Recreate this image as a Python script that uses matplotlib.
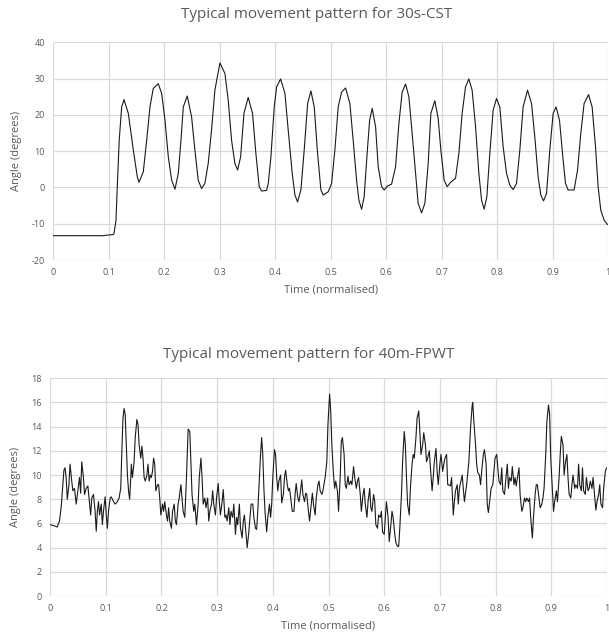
import matplotlib
matplotlib.use('Agg')
import matplotlib.pyplot as plt

plt.rcParams['font.family'] = ['Open Sans', 'DejaVu Sans']
plt.rcParams['axes.unicode_minus'] = False

# 30s-CST: angle vs normalised time
cst_time = [0.000, 0.090, 0.100, 0.108, 0.1096, 0.1132, 0.1155, 0.119, 0.1234, 0.1276,
            0.1354, 0.1444, 0.1516, 0.1546, 0.1624, 0.1685, 0.1744, 0.1804, 0.1894, 0.1955,
            0.2015, 0.2075, 0.2135, 0.2195, 0.2255, 0.2303, 0.2345, 0.2416, 0.2494, 0.2554,
            0.2614, 0.2674, 0.2734, 0.2794, 0.2854, 0.2914, 0.3005, 0.3095, 0.3155, 0.3215,
            0.3275, 0.3324, 0.3378, 0.3438, 0.3515, 0.3593, 0.3653, 0.3713, 0.3757, 0.3847,
            0.3876, 0.3924, 0.3984, 0.4027, 0.4099, 0.4177, 0.4236, 0.4308, 0.4357, 0.4405,
            0.4465, 0.4524, 0.4586, 0.4645, 0.4705, 0.4765, 0.4825, 0.4867, 0.4957, 0.5018,
            0.5077, 0.5137, 0.5198, 0.5270, 0.5348, 0.5407, 0.5468, 0.5510, 0.5559, 0.5605,
            0.5654, 0.5703, 0.5750, 0.5811, 0.5858, 0.5919, 0.5966, 0.6027, 0.6099, 0.6171,
            0.6231, 0.6290, 0.6351, 0.6411, 0.6470, 0.6532, 0.6578, 0.6640, 0.6699, 0.6759,
            0.6807, 0.6879, 0.6939, 0.6987, 0.7047, 0.7101, 0.7168, 0.7252, 0.7312, 0.7371,
            0.7432, 0.7492, 0.7551, 0.7613, 0.7672, 0.7721, 0.7768, 0.7816, 0.7870, 0.7930,
            0.7991, 0.8050, 0.8110, 0.8171, 0.8231, 0.8290, 0.8351, 0.8411, 0.8470, 0.8550,
            0.8622, 0.8681, 0.8741, 0.8789, 0.8838, 0.8892, 0.8951, 0.9011, 0.9065, 0.9126,
            0.9186, 0.9234, 0.9281, 0.9389, 0.9451, 0.9510, 0.9569, 0.9649, 0.9714, 0.9775,
            0.9822, 0.9870, 0.9930, 0.9990]
cst_angle = [-13.3, -13.3, -13.1, -13.0, -12.7, -9.0, 0.2, 13.0, 22.2, 24.2,
             20.4, 10.3, 2.9, 1.4, 4.3, 13.0, 22.2, 27.3, 28.6, 25.9,
             18.5, 8.4, 2.0, -0.5, 3.9, 13.0, 22.2, 25.2, 19.5, 10.3,
             2.0, -0.3, 1.1, 6.6, 15.8, 26.8, 34.3, 31.4, 24.0, 13.0,
             6.6, 4.8, 8.4, 20.4, 24.8, 20.4, 9.4, 0.2, -1.0, -0.8,
             1.1, 8.4, 22.2, 27.7, 29.9, 25.9, 15.8, 3.9, -2.1, -4.0,
             -0.7, 10.3, 23.1, 26.6, 22.2, 9.4, -0.7, -2.1, -1.2, 1.1,
             10.3, 22.2, 26.3, 27.4, 23.1, 13.0, 2.0, -3.5, -6.0, -2.6,
             8.4, 18.5, 21.8, 16.7, 5.7, 0.2, -0.7, 0.4, 0.9, 5.7,
             17.6, 26.3, 28.5, 25.0, 14.9, 3.9, -4.4, -7.0, -4.4, 6.6,
             20.4, 23.9, 19.0, 10.3, 2.0, 0.2, 1.5, 2.5, 9.4, 20.4,
             27.7, 29.9, 26.8, 16.7, 3.9, -3.5, -6.0, -2.6, 9.4, 21.3,
             24.5, 22.2, 11.2, 3.9, 0.6, -0.6, 1.1, 10.3, 22.2, 26.8,
             23.1, 13.9, 2.9, -2.1, -3.7, -1.7, 10.3, 20.4, 22.2, 18.5,
             8.4, 1.1, -0.7, -0.7, 4.8, 14.9, 23.1, 25.6, 22.2, 11.2,
             0.2, -6.3, -9.0, -10.2]

# 40m-FPWT: angle vs normalised time
fpwt_time = [0.000, 0.008, 0.013, 0.017, 0.020, 0.023, 0.025, 0.027, 0.029, 0.031,
             0.034, 0.036, 0.039, 0.041, 0.044, 0.047, 0.050, 0.053, 0.055, 0.057,
             0.060, 0.062, 0.065, 0.068, 0.071, 0.073, 0.075, 0.078, 0.081, 0.083,
             0.085, 0.087, 0.089, 0.092, 0.094, 0.096, 0.099, 0.101, 0.103, 0.105,
             0.108, 0.110, 0.114, 0.117, 0.121, 0.124, 0.127, 0.129, 0.131, 0.133,
             0.135, 0.137, 0.139, 0.141, 0.143, 0.145, 0.146, 0.148, 0.151, 0.153,
             0.156, 0.158, 0.160, 0.163, 0.165, 0.167, 0.169, 0.171, 0.174, 0.176,
             0.178, 0.180, 0.182, 0.184, 0.186, 0.188, 0.190, 0.193, 0.195, 0.197,
             0.199, 0.202, 0.204, 0.206, 0.209, 0.211, 0.213, 0.215, 0.218, 0.220,
             0.223, 0.225, 0.227, 0.230, 0.232, 0.235, 0.237, 0.239, 0.242, 0.245,
             0.248, 0.251, 0.253, 0.255, 0.258, 0.260, 0.263, 0.266, 0.268, 0.271,
             0.273, 0.275, 0.278, 0.280, 0.283, 0.285, 0.287, 0.290, 0.292, 0.294,
             0.297, 0.299, 0.302, 0.304, 0.306, 0.309, 0.311, 0.314, 0.316, 0.318,
             0.321, 0.323, 0.325, 0.328, 0.330, 0.333, 0.335, 0.337, 0.340, 0.342,
             0.345, 0.347, 0.349, 0.352, 0.354, 0.357, 0.359, 0.361, 0.364, 0.366,
             0.369, 0.371, 0.373, 0.376, 0.378, 0.380, 0.382, 0.384, 0.386, 0.389,
             0.391, 0.394, 0.396, 0.398, 0.400, 0.403, 0.405, 0.407, 0.409, 0.411,
             0.414, 0.416, 0.419, 0.421, 0.423, 0.426, 0.428, 0.430, 0.433, 0.435,
             0.438, 0.440, 0.442, 0.445, 0.447, 0.449, 0.452, 0.454, 0.457, 0.459,
             0.461, 0.464, 0.466, 0.469, 0.471, 0.473, 0.476, 0.478, 0.481, 0.483,
             0.485, 0.488, 0.490, 0.494, 0.497, 0.499, 0.502, 0.504, 0.506, 0.509,
             0.511, 0.513, 0.516, 0.518, 0.521, 0.523, 0.525, 0.528, 0.530, 0.532,
             0.535, 0.537, 0.540, 0.542, 0.545, 0.547, 0.550, 0.552, 0.554, 0.557,
             0.559, 0.562, 0.564, 0.566, 0.569, 0.571, 0.574, 0.576, 0.578, 0.581,
             0.583, 0.585, 0.588, 0.590, 0.593, 0.595, 0.597, 0.600, 0.602, 0.604,
             0.607, 0.609, 0.612, 0.614, 0.616, 0.619, 0.621, 0.624, 0.626, 0.628,
             0.631, 0.633, 0.636, 0.638, 0.640, 0.642, 0.645, 0.647, 0.650, 0.652,
             0.654, 0.657, 0.659, 0.662, 0.664, 0.666, 0.669, 0.671, 0.674, 0.676,
             0.678, 0.681, 0.683, 0.686, 0.688, 0.690, 0.693, 0.695, 0.697, 0.700,
             0.702, 0.705, 0.707, 0.709, 0.712, 0.714, 0.716, 0.719, 0.721, 0.724,
             0.726, 0.728, 0.731, 0.733, 0.735, 0.740, 0.744, 0.748, 0.752, 0.755,
             0.758, 0.759, 0.761, 0.764, 0.766, 0.768, 0.771, 0.773, 0.775, 0.778,
             0.780, 0.783, 0.785, 0.787, 0.790, 0.792, 0.795, 0.797, 0.799, 0.802,
             0.804, 0.806, 0.809, 0.811, 0.813, 0.816, 0.818, 0.821, 0.823, 0.825,
             0.828, 0.830, 0.833, 0.835, 0.837, 0.840, 0.842, 0.844, 0.847, 0.849,
             0.852, 0.854, 0.856, 0.859, 0.861, 0.863, 0.866, 0.868, 0.871, 0.873,
             0.875, 0.878, 0.880, 0.883, 0.885, 0.887, 0.890, 0.892, 0.895, 0.897,
             0.899, 0.902, 0.904, 0.906, 0.909, 0.911, 0.914, 0.916, 0.918, 0.921,
             0.923, 0.925, 0.928, 0.930, 0.932, 0.935, 0.937, 0.939, 0.942, 0.944,
             0.947, 0.949, 0.951, 0.954, 0.956, 0.958, 0.961, 0.963, 0.966, 0.968,
             0.970, 0.973, 0.975, 0.977, 0.980, 0.982, 0.985, 0.987, 0.989, 0.992,
             0.994, 0.997, 0.999]
fpwt_angle = [5.9, 5.8, 5.7, 6.2, 7.3, 9.2, 10.4, 10.6, 9.8, 8.0,
              9.2, 10.9, 9.5, 8.7, 8.9, 7.6, 8.7, 9.8, 8.5, 11.1,
              9.8, 8.4, 8.9, 9.1, 7.6, 6.7, 8.1, 8.4, 7.0, 5.35,
              7.0, 7.8, 6.7, 7.6, 5.9, 7.0, 8.2, 6.7, 5.6, 7.0,
              8.1, 8.2, 7.8, 7.6, 7.8, 8.1, 8.9, 12.0, 14.7, 15.5,
              15.0, 12.5, 10.0, 8.7, 8.0, 9.8, 10.9, 9.8, 11.1, 13.1,
              14.6, 14.2, 12.5, 11.4, 12.4, 11.4, 9.8, 9.5, 10.0, 10.9,
              9.5, 10.0, 9.8, 10.3, 11.4, 10.9, 8.7, 9.2, 9.2, 8.1,
              6.7, 7.6, 7.0, 7.8, 6.7, 6.2, 7.3, 6.2, 5.6, 7.0,
              7.6, 6.2, 5.9, 7.6, 8.1, 9.2, 8.1, 7.0, 6.5, 9.8,
              13.8, 13.6, 10.9, 8.4, 7.0, 7.6, 5.9, 7.6, 9.8, 11.4,
              9.8, 7.6, 8.1, 7.3, 8.1, 6.2, 7.0, 7.6, 8.7, 7.6,
              6.7, 8.1, 9.3, 7.8, 6.7, 7.8, 8.8, 6.5, 6.7, 6.2,
              7.3, 5.9, 7.0, 6.5, 7.6, 5.1, 6.5, 5.9, 7.6, 5.6,
              4.8, 6.2, 6.7, 5.1, 4.0, 5.3, 6.5, 7.6, 7.6, 6.5,
              5.6, 5.5, 7.0, 9.8, 11.7, 13.1, 11.7, 8.9, 7.0, 5.3,
              6.5, 7.6, 6.5, 7.6, 9.8, 12.1, 11.7, 9.8, 8.7, 9.5,
              10.0, 7.7, 8.4, 9.8, 10.4, 9.2, 8.7, 8.9, 7.8, 7.0,
              7.0, 8.4, 9.3, 8.1, 7.8, 8.4, 9.6, 8.4, 7.8, 8.5,
              8.4, 7.0, 6.2, 7.6, 8.5, 7.6, 6.7, 8.1, 9.2, 9.5,
              8.7, 8.4, 8.7, 9.8, 11.1, 14.2, 16.7, 15.3, 12.5, 10.0,
              8.9, 9.5, 8.7, 7.0, 9.8, 12.8, 13.1, 11.7, 9.2, 8.9,
              9.9, 9.2, 9.5, 9.2, 10.7, 9.8, 8.9, 9.5, 9.8, 8.4,
              7.0, 8.4, 8.9, 7.6, 6.5, 7.8, 8.9, 7.3, 7.0, 8.4,
              7.8, 5.9, 5.6, 6.7, 6.5, 7.0, 5.3, 5.1, 6.5, 7.8,
              6.5, 4.5, 5.9, 7.0, 6.5, 5.1, 4.4, 4.1, 4.1, 5.6,
              8.4, 11.1, 13.6, 12.5, 9.8, 7.6, 6.7, 8.9, 10.9, 11.7,
              11.4, 13.1, 14.7, 15.3, 13.6, 11.7, 12.5, 13.5, 12.5, 11.1,
              11.4, 12.0, 10.6, 8.7, 9.8, 11.1, 12.2, 10.3, 9.2, 10.9,
              11.7, 10.3, 10.9, 11.4, 11.7, 9.2, 9.2, 9.1, 9.8, 6.7,
              7.8, 8.7, 9.2, 7.6, 8.9, 10.0, 7.8, 9.2, 11.1, 13.9,
              15.8, 16.0, 14.4, 12.5, 10.9, 10.2, 10.0, 9.2, 10.3, 11.7,
              12.1, 10.9, 7.6, 6.9, 8.1, 8.9, 9.2, 10.3, 11.4, 11.7,
              10.6, 9.5, 9.2, 10.6, 8.7, 8.4, 9.5, 10.9, 8.9, 9.8,
              9.5, 10.7, 9.2, 9.8, 9.1, 10.0, 10.6, 8.4, 7.0, 7.3,
              8.1, 7.8, 8.1, 7.8, 8.1, 6.5, 4.8, 6.5, 8.4, 9.2,
              9.2, 8.1, 7.3, 7.6, 8.1, 8.9, 11.7, 14.4, 15.8, 15.0,
              11.4, 8.7, 7.0, 7.8, 8.7, 7.8, 9.8, 11.7, 13.2, 12.5,
              10.0, 10.9, 11.7, 9.8, 8.4, 8.1, 9.2, 10.0, 8.9, 9.2,
              8.9, 10.9, 9.2, 8.7, 10.6, 8.7, 8.4, 9.8, 8.7, 8.9,
              9.5, 8.9, 9.8, 8.7, 7.1, 7.8, 8.4, 9.2, 7.6, 7.3,
              8.9, 10.3, 10.6]

x_ticks = [0, 0.1, 0.2, 0.3, 0.4, 0.5, 0.6, 0.7, 0.8, 0.9, 1]
x_labels = ['0', '0.1', '0.2', '0.3', '0.4', '0.5', '0.6', '0.7', '0.8', '0.9', '1']
cst_yticks = [-20, -10, 0, 10, 20, 30, 40]
fpwt_yticks = [0, 2, 4, 6, 8, 10, 12, 14, 16, 18]

text_col = '#595959'
grid_col = '#d9d9d9'

fig = plt.figure(figsize=(6.09, 6.32), dpi=100)
ax1 = fig.add_axes([53.2 / 609, 372 / 632, 554.8 / 609, 217.7 / 632])
ax2 = fig.add_axes([50 / 609, 36 / 632, 557 / 609, 217.7 / 632])


def style(ax, yticks):
    ax.set_xlim(0, 1)
    ax.set_ylim(yticks[0], yticks[-1])
    ax.set_xticks(x_ticks)
    ax.set_xticklabels(x_labels)
    ax.set_yticks(yticks)
    ax.grid(True, color=grid_col, linewidth=0.9)
    ax.set_axisbelow(True)
    for s in ax.spines.values():
        s.set_visible(False)
    ax.tick_params(length=0, labelsize=6.5, labelcolor=text_col, pad=6)
    ax.set_xlabel('Time (normalised)', fontsize=8, color=text_col, labelpad=5)
    ax.set_ylabel('Angle (degrees)', fontsize=8, color=text_col, labelpad=7)


ax1.plot(cst_time, cst_angle, color='#1a1a1a', linewidth=0.8)
style(ax1, cst_yticks)
ax2.plot(fpwt_time, fpwt_angle, color='#1a1a1a', linewidth=0.8)
style(ax2, fpwt_yticks)

fig.text(317 / 609, 1 - 15 / 632, 'Typical movement pattern for 30s-CST',
         ha='center', va='center', fontsize=11, color=text_col)
fig.text(309 / 609, 1 - 355 / 632, 'Typical movement pattern for 40m-FPWT',
         ha='center', va='center', fontsize=11, color=text_col)

fig.savefig('out.png', dpi=100)
